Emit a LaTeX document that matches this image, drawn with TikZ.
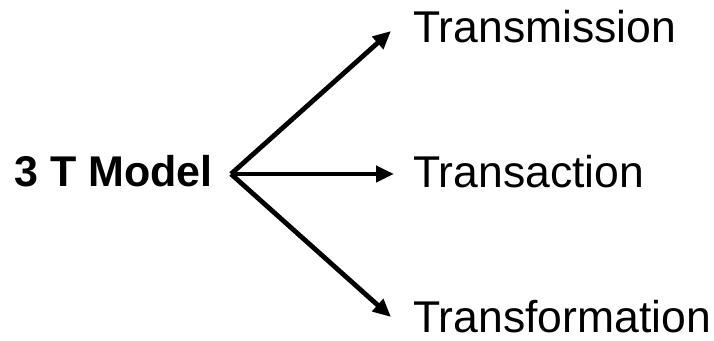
\documentclass[tikz,border=0pt]{standalone}
\usepackage{fontspec}
\setmainfont{Liberation Sans}
\usetikzlibrary{arrows.meta}
\begin{document}
\begin{tikzpicture}[x=1pt,y=1pt,
  label text/.style={inner sep=0pt,font=\fontsize{44.5}{50}\selectfont},
  branch/.style={line width=4.8pt,-{Triangle[length=18pt,width=16pt]}}]
  \useasboundingbox (0,0) rectangle (714,340);
  \node[inner sep=0pt,anchor=base east,font=\fontsize{43}{48}\selectfont\bfseries] (model) at (213,153) {3 T Model};
  \coordinate (hub) at (231,166);
  \node[label text,anchor=base west] (tm) at (413,297) {Transmission};
  \node[label text,anchor=base west] (ta) at (413,152) {Transaction};
  \node[label text,anchor=base west] (tf) at (413,8) {Transformation};
  \coordinate (tipA) at (391,309);
  \coordinate (tipB) at (394,166);
  \coordinate (tipC) at (391,23);
  \draw[branch] (hub) -- (tipA);
  \draw[branch] (hub) -- (tipB);
  \draw[branch] (hub) -- (tipC);
\end{tikzpicture}
\end{document}
